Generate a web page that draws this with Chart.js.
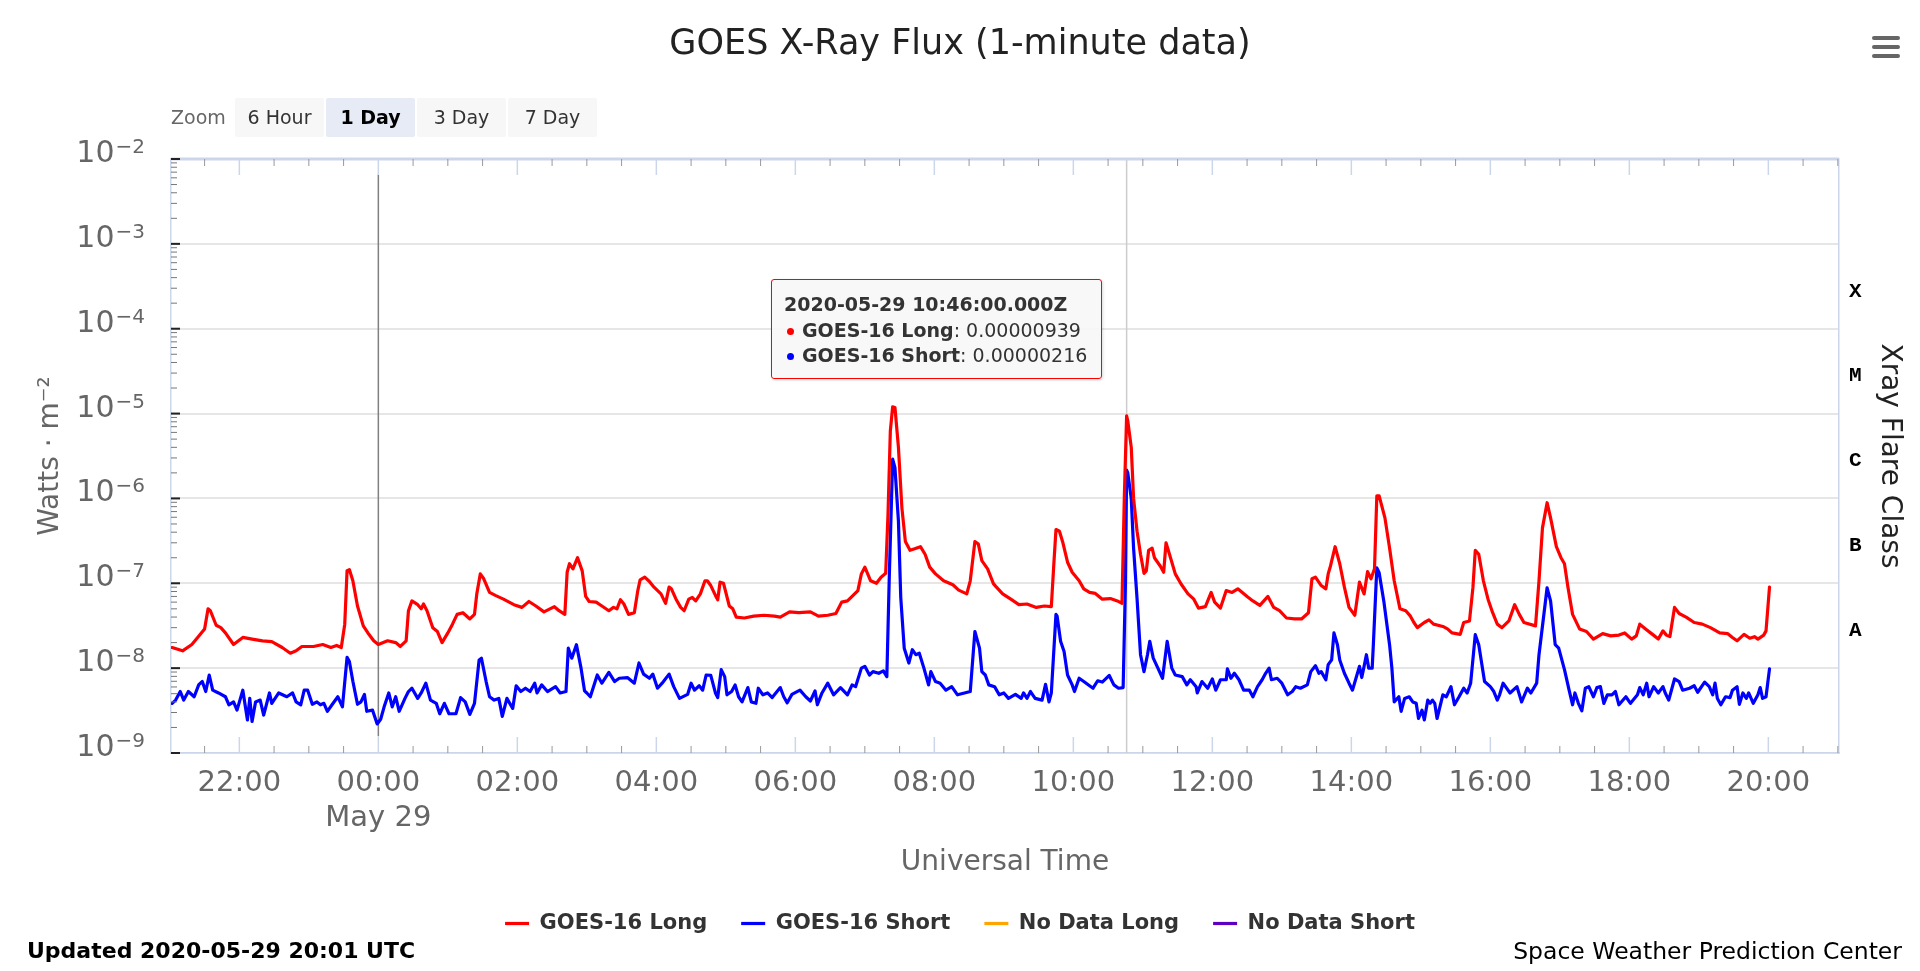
<!DOCTYPE html>
<html lang="en">
<head>
<meta charset="UTF-8">
<title>GOES X-Ray Flux (1-minute data)</title>
<script src="https://cdn.jsdelivr.net/npm/chart.js"></script>
<style>
  body { margin: 0; background: #fff; font-family: "DejaVu Sans", sans-serif; }
  #wrap { position: relative; width: 1920px; height: 971px; }
  #wrap canvas { position: absolute; left: 0; top: 0; }
  .zoom-label { position: absolute; left: 171px; top: 104px; font-size: 19px; line-height: 26px; color: #666; }
  .zoom-btn { position: absolute; top: 98px; width: 89px; height: 39px; line-height: 39px; text-align: center;
              font-size: 19px; color: #333; background: #f7f7f7; border-radius: 2px; }
  .zoom-btn.on { background: #e6ebf5; font-weight: bold; color: #000; }
  #menu { position: absolute; left: 1872px; top: 36px; width: 28px; }
  #menu div { height: 4px; background: #666; border-radius: 2px; margin-bottom: 5px; }
  #tip { position: absolute; left: 771px; top: 279px; width: 331px; height: 100px; box-sizing: border-box;
         border: 1.5px solid #ff0000; border-radius: 3px; background: rgba(247,247,247,0.9);
         box-shadow: 1px 1px 3px rgba(0,0,0,0.15); padding: 12px 12px; font-size: 19px; line-height: 25.5px; color: #333;
         white-space: nowrap; }
  #tip .dot { display: inline-block; width: 7px; height: 7px; border-radius: 50%; margin: 0 8px 2px 3px; }
  .foot { position: absolute; top: 937px; font-size: 22px; line-height: 28px; color: #000; }
</style>
</head>
<body>
<div id="wrap">
  <canvas id="xrayChart"></canvas>
  <div class="zoom-label">Zoom</div>
  <div class="zoom-btn" style="left:235px">6 Hour</div>
  <div class="zoom-btn on" style="left:326px">1 Day</div>
  <div class="zoom-btn" style="left:417px">3 Day</div>
  <div class="zoom-btn" style="left:508px">7 Day</div>
  <div id="menu"><div></div><div></div><div></div></div>
  <div id="tip"></div>
  <div class="foot" style="left:27px; font-weight:bold">Updated 2020-05-29 20:01 UTC</div>
  <div class="foot" style="right:18px; font-size:23.5px">Space Weather Prediction Center</div>
</div>

<script>
// Times are UTC "HH:MM"; anything from 21:00 on is May 28, the rest is May 29.
var longTimes = [
  '21:02','21:11','21:19','21:24','21:30','21:33','21:35','21:40','21:44','21:48',
  '21:55','22:03','22:11','22:20','22:28','22:37','22:44','22:49','22:54','23:04',
  '23:12','23:19','23:24','23:28','23:31','23:33','23:35','23:38','23:42','23:47',
  '23:51','23:56','00:00','00:08','00:15','00:19','00:24','00:26','00:29','00:34',
  '00:37','00:39','00:42','00:47','00:51','00:55','01:00','01:04','01:08','01:13',
  '01:19','01:23','01:25','01:28','01:31','01:36','01:41','01:48','01:57','02:04',
  '02:10','02:16','02:23','02:32','02:36','02:41','02:43','02:45','02:48','02:52',
  '02:56','02:59','03:02','03:08','03:13','03:19','03:23','03:26','03:29','03:32',
  '03:36','03:41','03:44','03:46','03:50','03:54','03:58','04:04','04:08','04:11',
  '04:13','04:17','04:21','04:24','04:28','04:31','04:34','04:38','04:42','04:44',
  '04:47','04:51','04:53','04:55','04:58','05:03','05:06','05:09','05:16','05:24',
  '05:33','05:42','05:47','05:55','06:03','06:13','06:20','06:28','06:35','06:40',
  '06:45','06:49','06:54','06:57','07:00','07:05','07:10','07:14','07:18','07:20',
  '07:22','07:24','07:26','07:29','07:32','07:35','07:39','07:43','07:48','07:52',
  '07:56','08:01','08:08','08:16','08:21','08:28','08:31','08:35','08:38','08:41',
  '08:46','08:51','08:53','08:59','09:06','09:13','09:20','09:28','09:35','09:41',
  '09:43','09:45','09:48','09:51','09:55','09:59','10:05','10:09','10:14','10:19',
  '10:25','10:32','10:38','10:42','10:44','10:46','10:47','10:50','10:52','10:55',
  '10:58','11:01','11:03','11:05','11:08','11:10','11:15','11:18','11:20','11:23',
  '11:28','11:33','11:39','11:44','11:48','11:54','11:59','12:02','12:07','12:12',
  '12:17','12:22','12:30','12:35','12:41','12:48','12:53','12:58','13:04','13:11',
  '13:17','13:23','13:26','13:29','13:34','13:38','13:40','13:42','13:46','13:50',
  '13:54','13:58','14:03','14:07','14:11','14:14','14:17','14:20','14:22','14:24',
  '14:29','14:33','14:37','14:42','14:47','14:51','14:54','14:57','15:03','15:07',
  '15:11','15:19','15:23','15:27','15:34','15:37','15:42','15:45','15:47','15:50',
  '15:54','15:58','16:02','16:06','16:10','16:16','16:21','16:25','16:29','16:39',
  '16:42','16:45','16:49','16:52','16:57','17:01','17:04','17:07','17:11','17:17',
  '17:23','17:29','17:37','17:44','17:51','17:56','18:02','18:06','18:09','18:14',
  '18:20','18:25','18:29','18:32','18:35','18:39','18:43','18:49','18:56','19:03',
  '19:10','19:18','19:25','19:29','19:33','19:39','19:44','19:48','19:51','19:56',
  '19:58','20:01'
];
var longFlux = [
  1.75e-8,1.6e-8,1.9e-8,2.3e-8,2.9e-8,5.0e-8,4.75e-8,3.2e-8,3.0e-8,2.6e-8,
  1.9e-8,2.3e-8,2.2e-8,2.1e-8,2.05e-8,1.75e-8,1.5e-8,1.6e-8,1.8e-8,1.8e-8,
  1.9e-8,1.75e-8,1.85e-8,1.75e-8,3.3e-8,1.41e-7,1.45e-7,1.07e-7,5.4e-8,3.15e-8,
  2.6e-8,2.1e-8,1.9e-8,2.1e-8,2.0e-8,1.8e-8,2.1e-8,4.75e-8,6.2e-8,5.6e-8,
  5.0e-8,5.7e-8,4.75e-8,3.0e-8,2.7e-8,2.0e-8,2.6e-8,3.3e-8,4.3e-8,4.5e-8,
  3.8e-8,4.3e-8,7.5e-8,1.29e-7,1.13e-7,7.8e-8,7.2e-8,6.5e-8,5.6e-8,5.2e-8,
  6.1e-8,5.4e-8,4.6e-8,5.3e-8,4.75e-8,4.3e-8,1.35e-7,1.7e-7,1.48e-7,2.0e-7,
  1.4e-7,7.0e-8,6.1e-8,6.0e-8,5.4e-8,4.75e-8,5.2e-8,5.0e-8,6.4e-8,5.7e-8,
  4.3e-8,4.5e-8,8.2e-8,1.1e-7,1.18e-7,1.05e-7,9.0e-8,7.5e-8,5.8e-8,9.0e-8,
  8.6e-8,6.5e-8,5.2e-8,4.75e-8,6.5e-8,6.8e-8,6.2e-8,7.5e-8,1.07e-7,1.07e-7,
  9.4e-8,7.2e-8,6.4e-8,1.03e-7,1.0e-7,5.4e-8,5.0e-8,4.0e-8,3.9e-8,4.1e-8,
  4.2e-8,4.1e-8,4.0e-8,4.6e-8,4.5e-8,4.6e-8,4.1e-8,4.2e-8,4.4e-8,6.0e-8,
  6.2e-8,7.0e-8,8.2e-8,1.29e-7,1.55e-7,1.07e-7,1.0e-7,1.18e-7,1.31e-7,6.5e-7,
  6.2e-6,1.2e-5,1.18e-5,4.0e-6,7.7e-7,3.1e-7,2.45e-7,2.55e-7,2.7e-7,2.2e-7,
  1.55e-7,1.29e-7,1.07e-7,9.6e-8,8.3e-8,7.5e-8,1.07e-7,3.1e-7,2.9e-7,1.85e-7,
  1.48e-7,9.9e-8,9.2e-8,7.5e-8,6.5e-8,5.6e-8,5.7e-8,5.2e-8,5.4e-8,5.3e-8,
  1.55e-7,4.3e-7,4.1e-7,3.0e-7,1.77e-7,1.35e-7,1.07e-7,8.6e-8,7.8e-8,7.6e-8,
  6.5e-8,6.6e-8,6.2e-8,5.8e-8,1.02e-6,9.39e-6,8.2e-6,4.0e-6,1.0e-6,4.1e-7,
  2.2e-7,1.31e-7,1.4e-7,2.45e-7,2.6e-7,2.0e-7,1.6e-7,1.35e-7,3.0e-7,2.2e-7,
  1.29e-7,9.8e-8,7.5e-8,6.5e-8,5.1e-8,5.3e-8,7.8e-8,6.0e-8,5.1e-8,8.2e-8,
  7.8e-8,8.6e-8,7.0e-8,6.2e-8,5.5e-8,7.0e-8,5.2e-8,4.75e-8,3.9e-8,3.8e-8,
  3.8e-8,4.5e-8,1.13e-7,1.18e-7,9.4e-8,8.6e-8,1.29e-7,1.6e-7,2.7e-7,1.7e-7,
  9.0e-8,5.2e-8,4.2e-8,1.03e-7,7.5e-8,1.37e-7,1.13e-7,1.48e-7,1.07e-6,1.07e-6,
  5.9e-7,2.6e-7,1.07e-7,5.0e-8,4.75e-8,4.1e-8,3.45e-8,3.0e-8,3.45e-8,3.7e-8,
  3.3e-8,3.1e-8,2.9e-8,2.6e-8,2.5e-8,3.45e-8,3.6e-8,9.0e-8,2.45e-7,2.2e-7,
  1.07e-7,6.5e-8,4.5e-8,3.3e-8,3.0e-8,3.6e-8,5.6e-8,4.3e-8,3.45e-8,3.15e-8,
  1.07e-7,4.5e-7,8.9e-7,5.9e-7,2.7e-7,2.0e-7,1.7e-7,9.0e-8,4.3e-8,2.9e-8,
  2.7e-8,2.2e-8,2.55e-8,2.4e-8,2.45e-8,2.6e-8,2.2e-8,2.4e-8,3.3e-8,2.9e-8,
  2.5e-8,2.2e-8,2.75e-8,2.45e-8,2.35e-8,5.2e-8,4.4e-8,4.0e-8,3.45e-8,3.3e-8,
  3.0e-8,2.6e-8,2.55e-8,2.3e-8,2.1e-8,2.5e-8,2.25e-8,2.35e-8,2.2e-8,2.45e-8,
  2.75e-8,9.0e-8
];

var shortTimes = [
  '21:02','21:05','21:09','21:12','21:16','21:21','21:25','21:28','21:31','21:34',
  '21:37','21:42','21:48','21:51','21:55','21:58','22:03','22:07','22:09','22:11',
  '22:14','22:18','22:21','22:26','22:28','22:34','22:41','22:46','22:49','22:53',
  '22:56','22:59','23:03','23:07','23:10','23:13','23:16','23:20','23:25','23:29',
  '23:33','23:35','23:38','23:42','23:45','23:48','23:50','23:55','23:59','00:02',
  '00:05','00:09','00:12','00:15','00:18','00:23','00:26','00:29','00:34','00:37',
  '00:41','00:45','00:50','00:53','00:57','01:01','01:07','01:11','01:15','01:19',
  '01:23','01:27','01:29','01:33','01:36','01:40','01:44','01:47','01:51','01:56',
  '01:59','02:03','02:07','02:11','02:15','02:17','02:21','02:26','02:33','02:37',
  '02:42','02:44','02:47','02:51','02:55','02:58','03:00','03:03','03:09','03:13',
  '03:19','03:24','03:28','03:35','03:41','03:45','03:49','03:54','03:57','04:01',
  '04:05','04:11','04:15','04:20','04:27','04:30','04:33','04:37','04:40','04:43',
  '04:47','04:51','04:53','04:56','04:59','05:01','05:05','05:08','05:11','05:14',
  '05:19','05:22','05:26','05:28','05:32','05:36','05:40','05:47','05:50','05:53',
  '05:57','06:04','06:09','06:13','06:17','06:19','06:23','06:28','06:33','06:39',
  '06:45','06:49','06:52','06:57','07:00','07:04','07:07','07:12','07:16','07:19',
  '07:21','07:24','07:26','07:29','07:31','07:34','07:38','07:41','07:44','07:47',
  '07:51','07:55','07:57','08:01','08:05','08:10','08:15','08:20','08:26','08:31',
  '08:35','08:39','08:41','08:44','08:47','08:52','08:56','09:00','09:04','09:10',
  '09:15','09:17','09:20','09:23','09:27','09:33','09:36','09:39','09:41','09:45',
  '09:46','09:49','09:52','09:55','09:59','10:01','10:05','10:09','10:14','10:17',
  '10:21','10:25','10:31','10:35','10:39','10:43','10:45','10:46','10:47','10:50',
  '10:52','10:55','10:58','11:01','11:04','11:06','11:09','11:13','11:17','11:21',
  '11:25','11:28','11:34','11:38','11:41','11:46','11:47','11:51','11:56','12:00',
  '12:03','12:07','12:12','12:13','12:16','12:19','12:23','12:27','12:32','12:35',
  '12:39','12:43','12:46','12:49','12:51','12:56','13:00','13:05','13:09','13:12',
  '13:16','13:22','13:25','13:29','13:32','13:34','13:38','13:40','13:43','13:45',
  '13:48','13:50','13:54','13:58','14:01','14:04','14:07','14:09','14:11','14:13',
  '14:15','14:18','14:19','14:22','14:24','14:28','14:33','14:35','14:37','14:41',
  '14:43','14:46','14:50','14:53','14:56','14:58','15:01','15:03','15:06','15:08',
  '15:10','15:12','15:14','15:19','15:22','15:26','15:29','15:33','15:37','15:40',
  '15:43','15:47','15:50','15:55','16:00','16:03','16:06','16:08','16:11','16:17',
  '16:23','16:27','16:32','16:35','16:40','16:42','16:49','16:52','16:56','16:59',
  '17:04','17:08','17:11','17:13','17:16','17:19','17:22','17:25','17:29','17:32',
  '17:35','17:38','17:41','17:45','17:48','17:51','17:57','18:01','18:07','18:09',
  '18:12','18:15','18:17','18:21','18:25','18:29','18:31','18:34','18:39','18:43',
  '18:46','18:52','18:56','18:59','19:05','19:09','19:12','19:14','19:16','19:19',
  '19:23','19:27','19:29','19:33','19:35','19:38','19:41','19:43','19:47','19:51',
  '19:53','19:55','19:58','20:01'
];
var shortFlux = [
  3.85e-9,4.2e-9,5.3e-9,4.2e-9,5.3e-9,4.6e-9,6.4e-9,6.95e-9,5.3e-9,8.3e-9,
  5.5e-9,5.1e-9,4.6e-9,3.7e-9,4.0e-9,3.2e-9,5.5e-9,2.45e-9,4.4e-9,2.35e-9,
  4.0e-9,4.2e-9,2.8e-9,5.1e-9,3.85e-9,5.1e-9,4.6e-9,5.1e-9,4.0e-9,3.7e-9,
  5.5e-9,5.5e-9,3.75e-9,4.0e-9,3.7e-9,3.85e-9,3.1e-9,3.7e-9,4.6e-9,3.5e-9,
  1.34e-8,1.2e-8,7.0e-9,3.75e-9,4.0e-9,4.9e-9,3.1e-9,3.2e-9,2.2e-9,2.5e-9,
  3.5e-9,5.1e-9,3.5e-9,4.6e-9,3.1e-9,4.4e-9,5.3e-9,5.8e-9,4.4e-9,5.1e-9,
  6.65e-9,4.2e-9,3.85e-9,2.9e-9,3.85e-9,2.9e-9,2.9e-9,4.5e-9,4.0e-9,2.85e-9,
  3.85e-9,1.25e-8,1.31e-8,7.0e-9,4.6e-9,4.2e-9,4.4e-9,2.7e-9,4.4e-9,3.35e-9,
  6.2e-9,5.3e-9,5.8e-9,5.3e-9,6.65e-9,5.1e-9,6.35e-9,5.3e-9,6.05e-9,5.1e-9,
  5.3e-9,1.72e-8,1.31e-8,1.89e-8,1.0e-8,5.4e-9,5.1e-9,4.6e-9,8.3e-9,6.65e-9,
  8.9e-9,6.95e-9,7.6e-9,7.75e-9,6.65e-9,1.15e-8,8.5e-9,7.6e-9,8.5e-9,5.8e-9,
  6.65e-9,8.5e-9,6.05e-9,4.4e-9,4.9e-9,6.65e-9,5.5e-9,6.2e-9,5.5e-9,8.3e-9,
  8.2e-9,5.1e-9,4.5e-9,9.6e-9,7.95e-9,4.85e-9,5.3e-9,6.35e-9,4.6e-9,4.0e-9,
  5.9e-9,4.0e-9,3.85e-9,5.8e-9,4.85e-9,5.1e-9,4.5e-9,5.9e-9,4.6e-9,3.9e-9,
  4.9e-9,5.5e-9,4.6e-9,4.1e-9,5.4e-9,3.7e-9,5.1e-9,6.65e-9,4.85e-9,5.9e-9,
  4.85e-9,6.35e-9,6.05e-9,1.0e-8,1.05e-8,8.3e-9,9.1e-9,8.7e-9,9.3e-9,7.95e-9,
  1.05e-7,2.9e-6,2.3e-6,5.4e-7,6.8e-8,1.72e-8,1.15e-8,1.65e-8,1.44e-8,1.5e-8,
  1.0e-8,6.35e-9,9.1e-9,6.95e-9,6.65e-9,5.5e-9,6.05e-9,4.85e-9,5.1e-9,5.3e-9,
  2.7e-8,1.72e-8,9.1e-9,8.3e-9,6.35e-9,6.05e-9,4.85e-9,5.1e-9,4.4e-9,4.9e-9,
  4.4e-9,5.1e-9,4.4e-9,5.3e-9,4.4e-9,4.2e-9,6.45e-9,4.0e-9,5.1e-9,4.3e-8,
  4.1e-8,2.07e-8,1.57e-8,8.3e-9,6.35e-9,5.3e-9,7.6e-9,6.95e-9,6.2e-9,5.8e-9,
  7.1e-9,6.85e-9,8.2e-9,6.35e-9,5.8e-9,5.9e-9,1.04e-7,2.16e-6,2.0e-6,1.0e-6,
  2.6e-7,6.6e-8,1.44e-8,9.1e-9,1.44e-8,2.07e-8,1.31e-8,1.0e-8,7.6e-9,2.07e-8,
  1.0e-8,8.3e-9,7.95e-9,6.35e-9,7.3e-9,6.05e-9,5.1e-9,6.95e-9,5.8e-9,7.45e-9,
  5.5e-9,7.3e-9,7.3e-9,9.8e-9,7.6e-9,8.7e-9,7.3e-9,5.5e-9,5.5e-9,4.6e-9,
  6.05e-9,7.3e-9,8.7e-9,1.0e-8,7.3e-9,7.6e-9,6.65e-9,4.85e-9,5.3e-9,6.05e-9,
  5.8e-9,6.35e-9,9.1e-9,1.07e-8,8.7e-9,9.1e-9,7.3e-9,1.1e-8,1.25e-8,2.6e-8,
  1.89e-8,1.25e-8,8.7e-9,6.65e-9,5.5e-9,7.6e-9,1.05e-8,7.75e-9,1.05e-8,1.44e-8,
  1.0e-8,1.0e-8,1.89e-8,1.52e-7,1.33e-7,6.2e-8,1.89e-8,1.0e-8,4.0e-9,4.6e-9,
  3.1e-9,4.4e-9,4.6e-9,4.0e-9,3.85e-9,2.55e-9,3.2e-9,2.45e-9,4.2e-9,3.85e-9,
  4.2e-9,3.85e-9,2.55e-9,4.85e-9,4.6e-9,6.05e-9,3.7e-9,4.6e-9,5.8e-9,5.1e-9,
  6.65e-9,2.48e-8,1.89e-8,6.95e-9,6.05e-9,5.3e-9,4.2e-9,4.85e-9,6.65e-9,5.1e-9,
  6.05e-9,4.0e-9,5.8e-9,5.1e-9,6.65e-9,1.44e-8,8.85e-8,6.2e-8,1.89e-8,1.72e-8,
  9.6e-9,5.5e-9,3.7e-9,5.1e-9,3.85e-9,3.15e-9,5.8e-9,6.05e-9,4.6e-9,5.9e-9,
  6.05e-9,3.85e-9,4.85e-9,4.85e-9,5.3e-9,3.7e-9,4.6e-9,3.85e-9,4.85e-9,5.9e-9,
  4.85e-9,6.65e-9,4.6e-9,6.05e-9,5.1e-9,6.05e-9,5.1e-9,4.2e-9,7.45e-9,6.95e-9,
  5.5e-9,5.8e-9,6.2e-9,5.2e-9,6.85e-9,6.05e-9,4.85e-9,6.65e-9,4.4e-9,3.7e-9,
  4.6e-9,4.5e-9,5.5e-9,6.05e-9,3.75e-9,5.1e-9,4.4e-9,5.1e-9,3.85e-9,4.85e-9,
  5.9e-9,4.4e-9,4.6e-9,9.8e-9
];

// vertical day-boundary marker at midnight
var dayLineTimes = ['00:00', '00:00'];
var dayLineFlux = [6.5e-3, 1.6e-9];

var tickTimes = ['22:00','00:00','02:00','04:00','06:00','08:00','10:00','12:00','14:00','16:00','18:00','20:00'];
var yTickExps = [-9, -8, -7, -6, -5, -4, -3, -2];
var flareClasses = ['A', 'B', 'C', 'M', 'X'];
var flareClassExps = [-7.5, -6.5, -5.5, -4.5, -3.5];
var tooltipTime = '10:46';

if (longTimes.length !== longFlux.length || shortTimes.length !== shortFlux.length) {
  console.error('series length mismatch', longTimes.length, longFlux.length, shortTimes.length, shortFlux.length);
}

function toMs(hm) {
  var parts = hm.split(':');
  var h = +parts[0], m = +parts[1];
  var day = h >= 21 ? 28 : 29;
  return Date.UTC(2020, 4, day, h, m);
}
function pad(n) { return (n < 10 ? '0' : '') + n; }
function series(times, values) {
  return times.map(function (t, i) { return {x: toMs(t), y: values[i]}; });
}

var X_MIN = Date.UTC(2020, 4, 28, 21, 1);
var X_MAX = Date.UTC(2020, 4, 29, 21, 1);
var HALF_HOUR = 30 * 60 * 1000;

// tooltip box
var iL = longTimes.indexOf(tooltipTime), iS = shortTimes.indexOf(tooltipTime);
document.getElementById('tip').innerHTML =
  '<b>' + new Date(toMs(tooltipTime)).toISOString().replace('T', ' ') + '</b><br>' +
  '<span class="dot" style="background:#ff0000"></span><b>GOES-16 Long</b>: ' + longFlux[iL].toFixed(8) + '<br>' +
  '<span class="dot" style="background:#0000ff"></span><b>GOES-16 Short</b>: ' + shortFlux[iS].toFixed(8);

var decor = {
  id: 'decor',
  beforeDatasetsDraw: function (chart) {
    var ctx = chart.ctx, a = chart.chartArea;
    var cx = chart.scales.x.getPixelForValue(toMs(tooltipTime));
    ctx.save();
    ctx.strokeStyle = '#cccccc';
    ctx.lineWidth = 1.5;
    ctx.beginPath(); ctx.moveTo(cx, a.top); ctx.lineTo(cx, a.bottom); ctx.stroke();
    ctx.restore();
  },
  afterDatasetsDraw: function (chart) {
    var ctx = chart.ctx, a = chart.chartArea, x = chart.scales.x, y = chart.scales.y;
    ctx.save();
    // heavier top edge of the plot
    ctx.strokeStyle = '#ccd6eb';
    ctx.lineWidth = 3;
    ctx.beginPath(); ctx.moveTo(a.left, a.top); ctx.lineTo(a.right, a.top); ctx.stroke();

    // half-hour ticks on bottom and top edges, taller light ones every 2 hours
    for (var t = Date.UTC(2020, 4, 28, 21, 30); t <= X_MAX; t += HALF_HOUR) {
      var d = new Date(t);
      var major = d.getUTCMinutes() === 0 && d.getUTCHours() % 2 === 0;
      var px = x.getPixelForValue(t);
      var len = major ? 16 : 7;
      ctx.strokeStyle = major ? '#ccd6eb' : '#999999';
      ctx.lineWidth = major ? 1.5 : 1;
      ctx.beginPath();
      ctx.moveTo(px, a.bottom); ctx.lineTo(px, a.bottom - len);
      ctx.moveTo(px, a.top); ctx.lineTo(px, a.top + len);
      ctx.stroke();
    }

    // log minor ticks inside the left edge
    for (var e = -9; e <= -2; e++) {
      var py = y.getPixelForValue(Math.pow(10, e));
      ctx.strokeStyle = '#222';
      ctx.lineWidth = 2;
      ctx.beginPath(); ctx.moveTo(a.left, py); ctx.lineTo(a.left + 9, py); ctx.stroke();
      if (e === -2) break;
      ctx.strokeStyle = '#777';
      ctx.lineWidth = 1;
      for (var k = 2; k <= 9; k++) {
        var pm = y.getPixelForValue(k * Math.pow(10, e));
        ctx.beginPath(); ctx.moveTo(a.left, pm); ctx.lineTo(a.left + 6, pm); ctx.stroke();
      }
    }
    ctx.restore();
  },
  afterDraw: function (chart) {
    // y labels as 10 with a raised exponent
    var ctx = chart.ctx, a = chart.chartArea, y = chart.scales.y;
    var right = a.left - 26;
    ctx.save();
    ctx.fillStyle = '#666';
    ctx.textAlign = 'right';
    ctx.textBaseline = 'alphabetic';
    yTickExps.forEach(function (e) {
      var py = y.getPixelForValue(Math.pow(10, e));
      var sup = '\u2212' + (-e);
      ctx.font = '20px "DejaVu Sans"';
      var sw = ctx.measureText(sup).width;
      ctx.fillText(sup, right, py - 6);
      ctx.font = '30px "DejaVu Sans"';
      ctx.fillText('10', right - sw - 1, py + 3);
    });
    ctx.restore();
  }
};

Chart.defaults.font.family = '"DejaVu Sans", sans-serif';
Chart.defaults.color = '#666';

var ctx = document.getElementById('xrayChart').getContext('2d');
var xrayChart = new Chart(ctx, {
  type: 'line',
  data: {
    datasets: [
      {label: 'GOES-16 Long', data: series(longTimes, longFlux), borderColor: '#ff0000', backgroundColor: '#ff0000', borderWidth: 3.2},
      {label: 'GOES-16 Short', data: series(shortTimes, shortFlux), borderColor: '#0000ff', backgroundColor: '#0000ff', borderWidth: 3.2},
      {label: 'No Data Long', data: [], borderColor: '#ffa500', backgroundColor: '#ffa500', borderWidth: 3.2},
      {label: 'No Data Short', data: [], borderColor: '#5c00c4', backgroundColor: '#5c00c4', borderWidth: 3.2},
      {label: '', data: series(dayLineTimes, dayLineFlux), borderColor: '#808080', borderWidth: 1.5}
    ]
  },
  options: {
    responsive: true,
    maintainAspectRatio: false,
    animation: false,
    parsing: false,
    events: [],
    elements: {
      point: {radius: 0},
      line: {tension: 0, borderJoinStyle: 'round', borderCapStyle: 'round'}
    },
    layout: {padding: {top: 0, right: 0, bottom: 27, left: 0}},
    plugins: {
      title: {
        display: true,
        text: 'GOES X-Ray Flux (1-minute data)',
        color: '#222',
        font: {size: 35, weight: 'normal'},
        padding: {top: 24, bottom: 93}
      },
      legend: {
        position: 'bottom',
        labels: {
          usePointStyle: true,
          pointStyle: 'line',
          pointStyleWidth: 24,
          color: '#333',
          font: {size: 21, weight: 'bold'},
          padding: 34,
          filter: function (item) { return item.text !== ''; }
        }
      },
      tooltip: {enabled: false}
    },
    scales: {
      x: {
        type: 'linear',
        min: X_MIN,
        max: X_MAX,
        afterBuildTicks: function (s) { s.ticks = tickTimes.map(function (t) { return {value: toMs(t)}; }); },
        afterFit: function (s) { s.height = 126; },
        grid: {display: false, drawTicks: false},
        border: {color: '#ccd6eb', width: 1.5},
        ticks: {
          color: '#666',
          font: {size: 29},
          padding: 13,
          maxRotation: 0,
          autoSkip: false,
          callback: function (v) {
            var d = new Date(v);
            var label = pad(d.getUTCHours()) + ':' + pad(d.getUTCMinutes());
            return d.getUTCHours() === 0 ? [label, 'May 29'] : label;
          }
        },
        title: {display: true, text: 'Universal Time', color: '#666', font: {size: 28, lineHeight: 1}, padding: {top: 0, bottom: 2}}
      },
      y: {
        type: 'logarithmic',
        position: 'left',
        min: 1e-9,
        max: 1e-2,
        afterBuildTicks: function (s) { s.ticks = yTickExps.map(function (e) { return {value: Math.pow(10, e)}; }); },
        afterFit: function (s) { s.width = 171; },
        grid: {color: '#e6e6e6', lineWidth: 2, drawTicks: false},
        border: {color: '#ccd6eb', width: 1.5},
        ticks: {display: false},
        title: {display: true, text: 'Watts \u00b7 m\u207b\u00b2', color: '#666', font: {size: 28}, padding: {top: 34, bottom: 0}}
      },
      y2: {
        type: 'logarithmic',
        position: 'right',
        min: 1e-9,
        max: 1e-2,
        afterBuildTicks: function (s) { s.ticks = flareClassExps.map(function (e) { return {value: Math.pow(10, e)}; }); },
        afterFit: function (s) { s.width = 81; },
        grid: {display: false, drawTicks: false},
        border: {color: '#ccd6eb', width: 1.5},
        ticks: {
          color: '#000',
          font: {family: '"Liberation Mono", monospace', size: 21, weight: 'bold'},
          padding: 10,
          labelOffset: 5,
          callback: function (v, i) { return flareClasses[i]; }
        },
        title: {display: true, text: 'Xray Flare Class', color: '#222', font: {size: 28}, padding: {top: 14, bottom: 0}}
      }
    }
  },
  plugins: [decor]
});
</script>
</body>
</html>
